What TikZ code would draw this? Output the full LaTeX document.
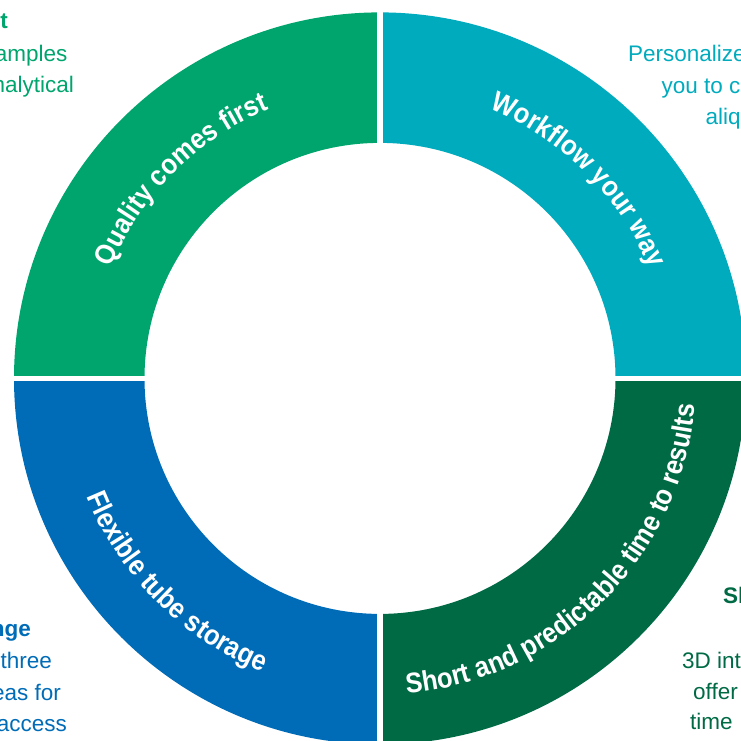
\documentclass[tikz,border=0pt]{standalone}
\usepackage{fontspec}
\setmainfont{Liberation Sans}
\newfontfamily\labfam{Liberation Sans}[FakeStretch=0.9]
\usetikzlibrary{decorations.text}
\definecolor{cgreen}{RGB}{0,165,110}
\definecolor{cteal}{RGB}{0,171,189}
\definecolor{cblue}{RGB}{0,108,183}
\definecolor{cdark}{RGB}{0,106,69}
\newcommand\bodyfont{\fontsize{22.5}{27}\selectfont}
\newcommand\labfont{\labfam\fontsize{28.3}{32}\selectfont\bfseries}
\begin{document}
\begin{tikzpicture}[x=1pt,y=1pt,
  body/.style={inner sep=0pt, font=\bodyfont},
  bodyb/.style={inner sep=0pt, font=\bodyfont\bfseries},
  ringlabel/.style={decorate, decoration={text along path, text align=center, text={|\labfont\color{white}|#1}}}]
\useasboundingbox (0,0) rectangle (741,740);
\clip (0,0) rectangle (741,740);
\coordinate (c) at (380,361.6);
% ring quadrants
\begin{scope}
  \clip (0,364.8) rectangle (376.8,740);
  \fill[cgreen, even odd rule] (c) circle[radius=366pt] (c) circle[radius=235.5pt];
\end{scope}
\begin{scope}
  \clip (383.2,364.8) rectangle (741,740);
  \fill[cteal, even odd rule] (c) circle[radius=366pt] (c) circle[radius=235.5pt];
\end{scope}
\begin{scope}
  \clip (0,0) rectangle (376.8,358.4);
  \fill[cblue, even odd rule] (c) circle[radius=366pt] (c) circle[radius=235.5pt];
\end{scope}
\begin{scope}
  \clip (383.2,0) rectangle (741,358.4);
  \fill[cdark, even odd rule] (c) circle[radius=366pt] (c) circle[radius=235.5pt];
\end{scope}
% ring labels
\path[ringlabel={Quality comes first}] ([shift={(180:291pt)}]c) arc[start angle=180, end angle=90, radius=291pt];
\path[ringlabel={Workflow your way}] ([shift={(90:291pt)}]c) arc[start angle=90, end angle=0, radius=291pt];
\path[ringlabel={Flexible tube storage}] ([shift={(180:316pt)}]c) arc[start angle=180, end angle=270, radius=316pt];
\path[ringlabel={Short and predictable time to results}] ([shift={(270:316pt)}]c) arc[start angle=270, end angle=360, radius=316pt];
% corner texts
\node[bodyb, text=cgreen, anchor=base east] (tl1) at (8,711.5) {t};
\node[body, text=cgreen, anchor=base east] (tl2) at (67.5,678.5) {amples};
\node[body, text=cgreen, anchor=base east] (tl3) at (74,647.5) {nalytical};
\node[body, text=cteal, anchor=base west] (tr1) at (628,678) {Personalize};
\node[body, text=cteal, anchor=base west] (tr2) at (661.5,646.5) {you to c};
\node[body, text=cteal, anchor=base west] (tr3) at (705.5,615) {aliq};
\node[bodyb, text=cblue, anchor=base east] (bl1) at (31,104) {nge};
\node[body, text=cblue, anchor=base east] (bl2) at (52,72) {three};
\node[body, text=cblue, anchor=base east] (bl3) at (61,40) {eas for};
\node[body, text=cblue, anchor=base east] (bl4) at (67,8.5) {access};
\node[bodyb, text=cdark, anchor=base west] (br1) at (723,137) {Sh};
\node[body, text=cdark, anchor=base west] (br2) at (682,72) {3D int};
\node[body, text=cdark, anchor=base west] (br3) at (693,41) {offer};
\node[body, text=cdark, anchor=base west] (br4) at (690,11) {time};
\end{tikzpicture}
\end{document}
